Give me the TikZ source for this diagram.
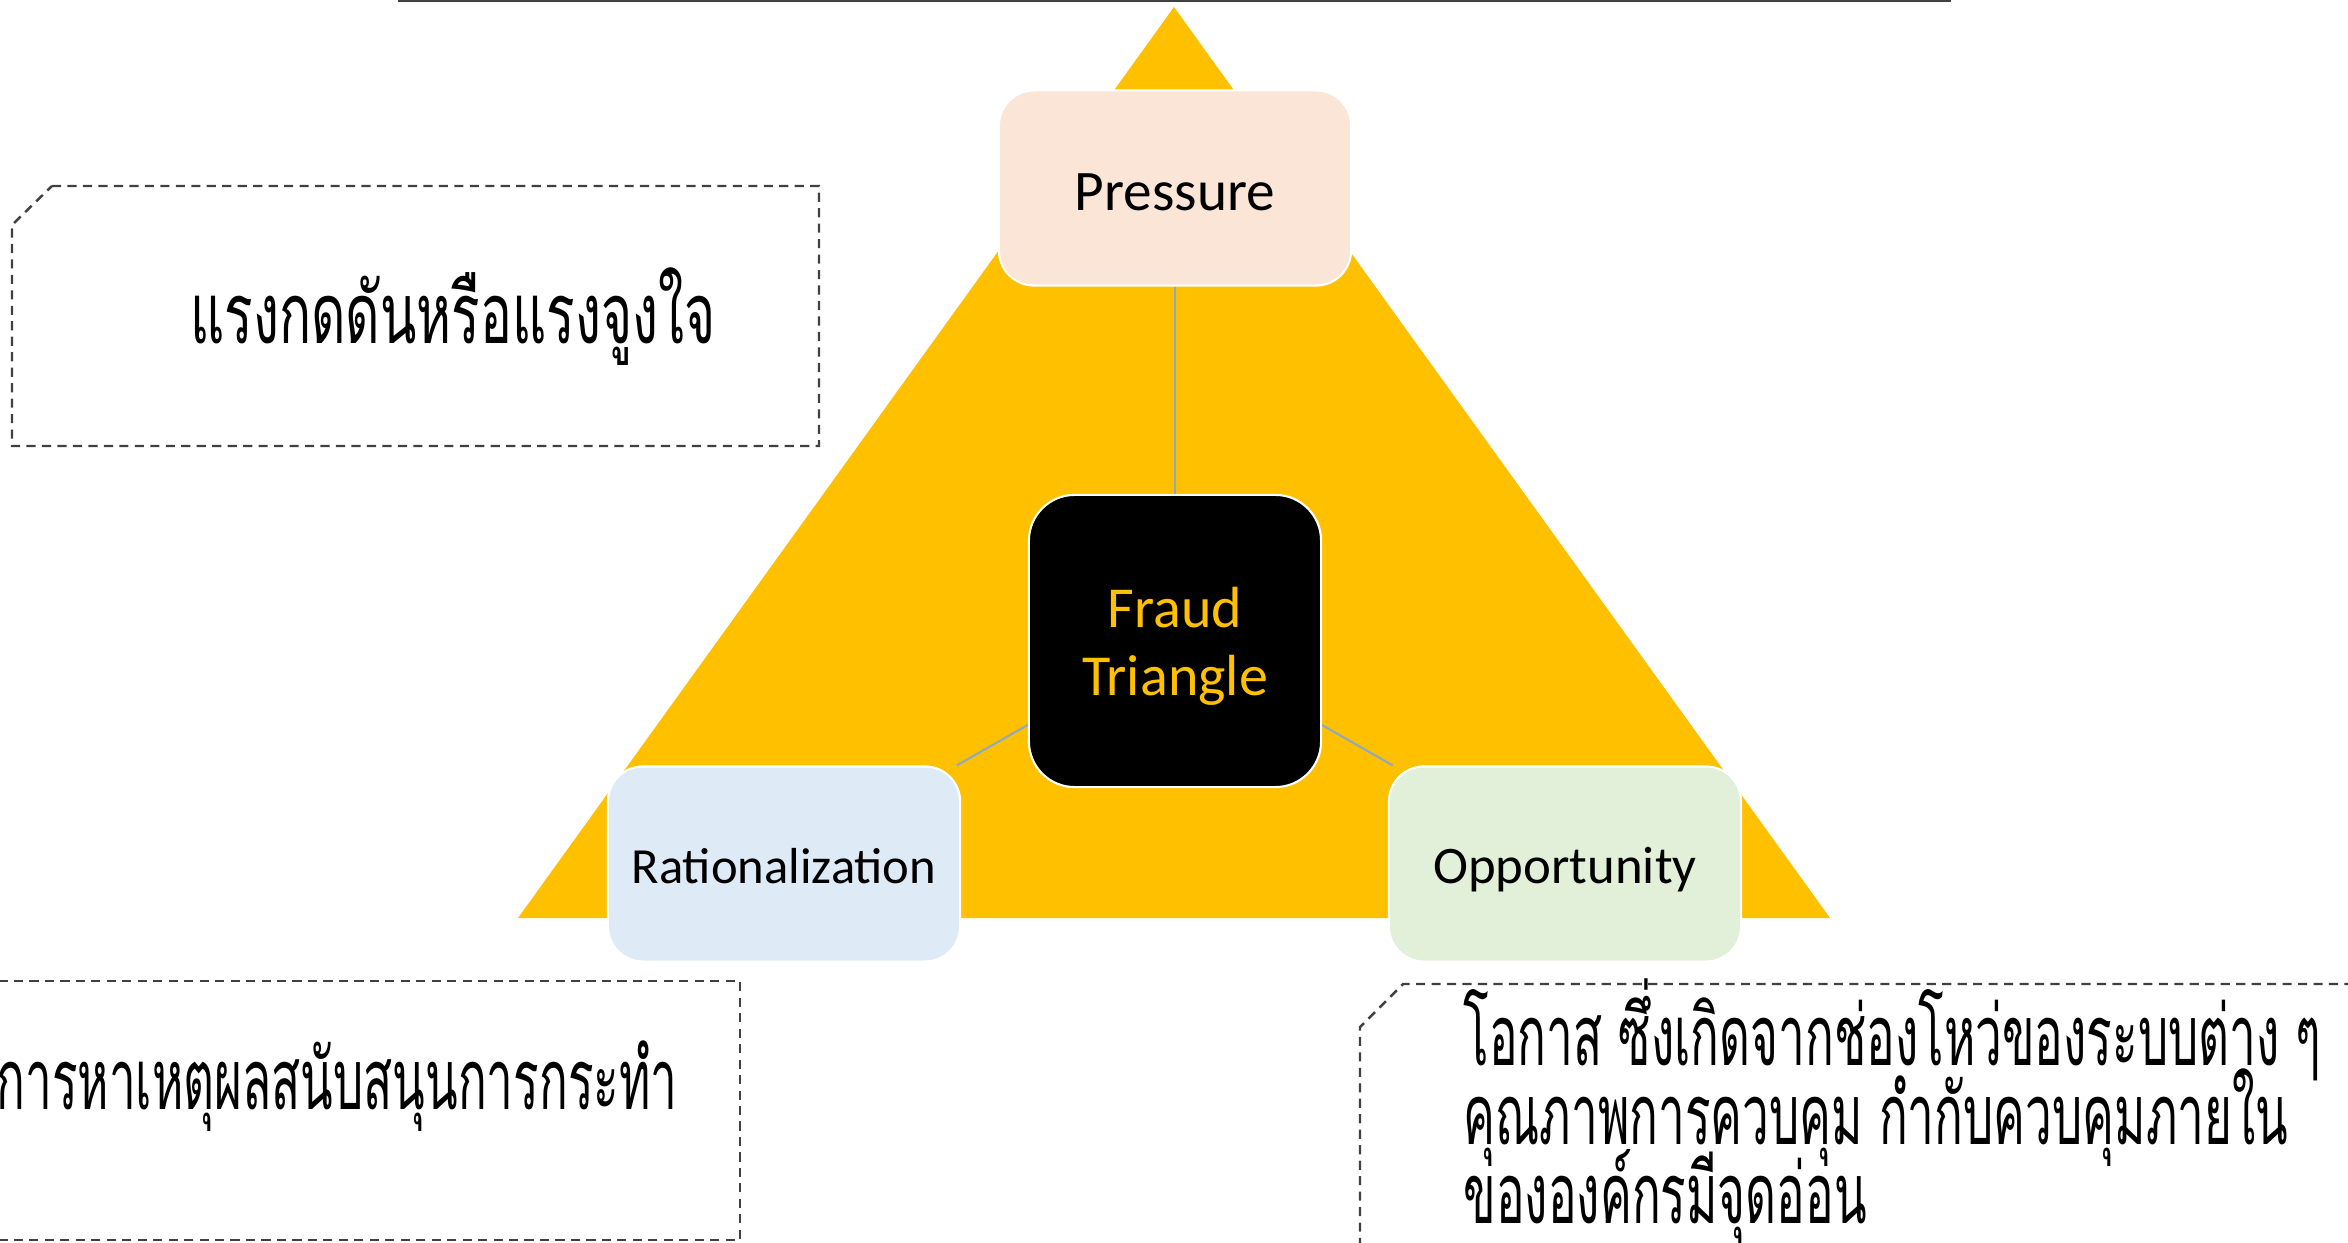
\documentclass[tikz,border=0pt]{standalone}
\usepackage{fontspec}
\setmainfont{Carlito}
\newfontfamily\thaifont[Script=Thai,FakeStretch=0.63]{Loma}
\newfontfamily\thainarrow[Script=Thai,FakeStretch=0.565]{Loma}
\definecolor{gold}{HTML}{FFC000}
\definecolor{pressfill}{HTML}{FBE5D6}
\definecolor{ratfill}{HTML}{DEEBF7}
\definecolor{oppfill}{HTML}{E2F0D9}
\definecolor{linkblue}{HTML}{8FA9BF}
\definecolor{notegray}{HTML}{404040}
\newcommand{\tightlines}{\setlength{\lineskiplimit}{-40pt}\setlength{\lineskip}{0pt}}
\begin{document}
\begin{tikzpicture}[x=0.01cm,y=-0.01cm,
  card/.style={rounded corners=10pt, draw=white, line width=0.6pt, inner sep=0pt,
    minimum width=3.52cm, minimum height=1.95cm, text=black,
    text height=11pt, text depth=0pt,
    font=\fontsize{15}{18}\selectfont},
  link/.style={draw=linkblue, line width=0.6pt},
  note/.style={draw=notegray, line width=0.7pt, dash pattern=on 2.6pt off 1.8pt},
  thaitext/.style={inner sep=0pt, text=black, font=\thainarrow\fontsize{24}{22}\selectfont}]
\useasboundingbox (0,0) rectangle (2348,1243);
\clip (0,0) rectangle (2348,1243);

% rule along the top edge
\draw[notegray, line width=0.85pt] (398,1) -- (1951,1);

% the large triangle behind the cards
\fill[gold] (1174,7) -- (1830,918) -- (518,918) -- cycle;

% cards
\node[card, fill=pressfill, text height=12.6pt, font=\fontsize{16.3}{19}\selectfont]
  (pressure) at (1175,188) {Pressure};
\node[card, fill=black, text=gold, minimum width=2.92cm, minimum height=2.92cm,
  text height=, text depth=0pt, rounded corners=13pt, align=center,
  font=\fontsize{16.5}{19.3}\selectfont]
  (fraud) at (1175,641) {Fraud\\Triangle};
\node[card, fill=ratfill, font=\fontsize{14.4}{18}\selectfont] (rational) at (784,864) {Rationalization};
\node[card, fill=oppfill] (opport) at (1565,864) {Opportunity};

% connectors from the centre card
\draw[link] (pressure) -- (fraud);
\draw[link] (fraud) -- (rational);
\draw[link] (fraud) -- (opport);

% dashed note frames
\draw[note] (52,186) -- (819,186) -- (819,446) -- (12,446) -- (12,225) -- cycle;
\draw[note] (-17,981) -- (740,981) -- (740,1240) -- (-60,1240);
\draw[note] (2400,984) -- (1403,984) -- (1360,1027) -- (1360,1300);

% note texts
\node[thaitext, font=\thaifont\fontsize{24}{22}\selectfont] (pressnote) at (453,317) {แรงกดดันหรือแรงจูงใจ};
\node[thaitext] (rationote) at (337,1086) {การหาเหตุผลสนับสนุนการกระทำ};
\node[thaitext, anchor=west, align=left,
  font=\thainarrow\fontsize{24}{22.4}\selectfont\tightlines]
  (oppnote) at (1463,1112)
  {โอกาส ซึ่งเกิดจากช่องโหว่ของระบบต่าง ๆ\\คุณภาพการควบคุม กำกับควบคุมภายใน\\ขององค์กรมีจุดอ่อน};
\end{tikzpicture}
\end{document}
